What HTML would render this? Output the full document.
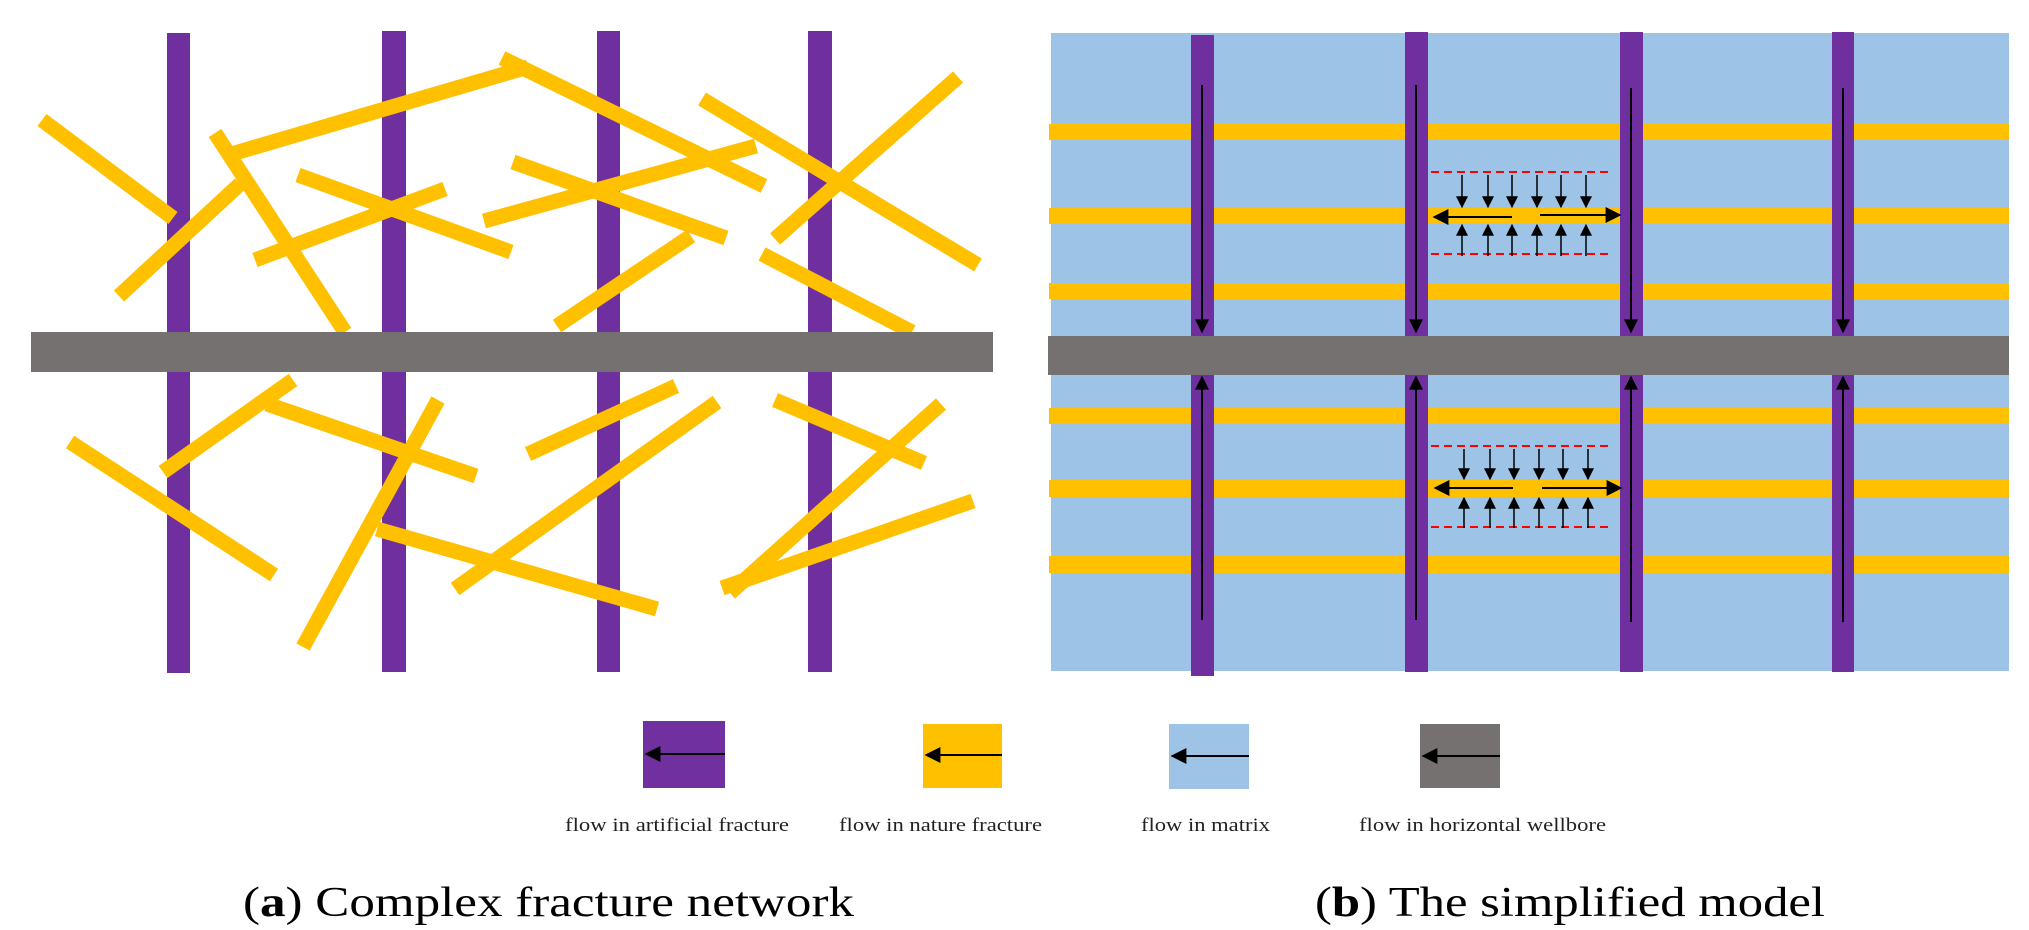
<!DOCTYPE html>
<html><head><meta charset="utf-8"><style>html,body{margin:0;padding:0;background:#fff}svg{display:block}</style></head>
<body>
<svg width="2029" height="930" viewBox="0 0 2029 930" xmlns="http://www.w3.org/2000/svg">
<defs>
<marker id="ah" viewBox="0 0 10 10" refX="9" refY="5" markerWidth="8" markerHeight="7" orient="auto" markerUnits="strokeWidth"><path d="M0,0L10,5L0,10z" fill="#000"/></marker>
<marker id="as" viewBox="0 0 10 10" refX="9" refY="5" markerWidth="8" markerHeight="8" orient="auto" markerUnits="strokeWidth"><path d="M0,0L10,5L0,10z" fill="#000"/></marker>
</defs>
<!-- LEFT PANEL -->
<g fill="#6f2f9f">
<rect x="167" y="33" width="23" height="640"/>
<rect x="382" y="31" width="24" height="641"/>
<rect x="597" y="31" width="23" height="641"/>
<rect x="808" y="31" width="24" height="641"/>
</g>
<g stroke="#ffc000" stroke-width="15" fill="none">
<line x1="42" y1="120" x2="173" y2="218"/>
<line x1="119" y1="296" x2="240" y2="184"/>
<line x1="215" y1="133" x2="345" y2="332"/>
<line x1="228" y1="155" x2="528" y2="67"/>
<line x1="502" y1="58" x2="764" y2="186"/>
<line x1="298" y1="175" x2="511" y2="252"/>
<line x1="255" y1="260" x2="445" y2="189"/>
<line x1="513" y1="162" x2="726" y2="238"/>
<line x1="484" y1="221" x2="756" y2="146"/>
<line x1="557" y1="326" x2="691" y2="236"/>
<line x1="702" y1="99" x2="978" y2="265"/>
<line x1="775" y1="239" x2="958" y2="77"/>
<line x1="762" y1="254" x2="912" y2="332"/>
<line x1="293" y1="380" x2="163" y2="472"/>
<line x1="70" y1="442" x2="274" y2="575"/>
<line x1="267" y1="404" x2="476" y2="476"/>
<line x1="438" y1="400" x2="303" y2="647"/>
<line x1="377" y1="529" x2="657" y2="609"/>
<line x1="717" y1="402" x2="455" y2="589"/>
<line x1="528" y1="454" x2="676" y2="386"/>
<line x1="775" y1="400" x2="924" y2="463"/>
<line x1="941" y1="404" x2="730" y2="593"/>
<line x1="722" y1="588" x2="973" y2="501"/>
</g>
<rect x="31" y="332" width="962" height="40" fill="#767171"/>

<!-- RIGHT PANEL -->
<rect x="1051" y="33" width="958" height="638" fill="#9dc3e6"/>
<g fill="#ffc000">
<rect x="1049" y="124" width="960" height="16"/>
<rect x="1049" y="208" width="960" height="16"/>
<rect x="1049" y="283" width="960" height="16"/>
<rect x="1049" y="408" width="960" height="16"/>
<rect x="1049" y="480" width="960" height="17"/>
<rect x="1049" y="556" width="960" height="17"/>
</g>
<g fill="#6f2f9f">
<rect x="1191" y="35" width="23" height="641"/>
<rect x="1405" y="32" width="23" height="640"/>
<rect x="1620" y="32" width="23" height="640"/>
<rect x="1832" y="32" width="22" height="640"/>
</g>
<rect x="1048" y="336" width="961" height="39" fill="#767171"/>
<g stroke="#000" stroke-width="2" marker-end="url(#ah)">
<line x1="1202" y1="85" x2="1202" y2="332"/>
<line x1="1416" y1="85" x2="1416" y2="332"/>
<line x1="1631" y1="88" x2="1631" y2="332"/>
<line x1="1843" y1="88" x2="1843" y2="332"/>
<line x1="1202" y1="620" x2="1202" y2="377"/>
<line x1="1416" y1="620" x2="1416" y2="377"/>
<line x1="1631" y1="622" x2="1631" y2="377"/>
<line x1="1843" y1="622" x2="1843" y2="377"/>
</g>
<!-- detail boxes -->
<g stroke="#ff0000" stroke-width="2" stroke-dasharray="8,5">
<line x1="1431" y1="172" x2="1613" y2="172"/>
<line x1="1431" y1="254" x2="1613" y2="254"/>
<line x1="1431" y1="446" x2="1613" y2="446"/>
<line x1="1431" y1="527" x2="1613" y2="527"/>
</g>
<g stroke="#000" stroke-width="1.5" marker-end="url(#as)">
<line x1="1462" y1="175" x2="1462" y2="207"/><line x1="1488" y1="175" x2="1488" y2="207"/><line x1="1512" y1="175" x2="1512" y2="207"/><line x1="1537" y1="175" x2="1537" y2="207"/><line x1="1561" y1="175" x2="1561" y2="207"/><line x1="1586" y1="175" x2="1586" y2="207"/>
<line x1="1462" y1="256" x2="1462" y2="225"/><line x1="1488" y1="256" x2="1488" y2="225"/><line x1="1512" y1="256" x2="1512" y2="225"/><line x1="1537" y1="256" x2="1537" y2="225"/><line x1="1561" y1="256" x2="1561" y2="225"/><line x1="1586" y1="256" x2="1586" y2="225"/>
<line x1="1464" y1="449" x2="1464" y2="479"/><line x1="1490" y1="449" x2="1490" y2="479"/><line x1="1514" y1="449" x2="1514" y2="479"/><line x1="1539" y1="449" x2="1539" y2="479"/><line x1="1563" y1="449" x2="1563" y2="479"/><line x1="1588" y1="449" x2="1588" y2="479"/>
<line x1="1464" y1="528" x2="1464" y2="498"/><line x1="1490" y1="528" x2="1490" y2="498"/><line x1="1514" y1="528" x2="1514" y2="498"/><line x1="1539" y1="528" x2="1539" y2="498"/><line x1="1563" y1="528" x2="1563" y2="498"/><line x1="1588" y1="528" x2="1588" y2="498"/>
</g>
<g stroke="#000" stroke-width="2" marker-end="url(#as)">
<line x1="1512" y1="217" x2="1434" y2="217"/>
<line x1="1540" y1="215" x2="1620" y2="215"/>
<line x1="1513" y1="488" x2="1435" y2="488"/>
<line x1="1542" y1="488" x2="1621" y2="488"/>
</g>

<!-- LEGEND -->
<rect x="643" y="721" width="82" height="67" fill="#7030a0"/>
<rect x="923" y="724" width="79" height="64" fill="#ffc000"/>
<rect x="1169" y="724" width="80" height="65" fill="#9dc3e6"/>
<rect x="1420" y="724" width="80" height="64" fill="#767171"/>
<g stroke="#000" stroke-width="2" marker-end="url(#as)">
<line x1="725" y1="754" x2="646" y2="754"/>
<line x1="1002" y1="755" x2="926" y2="755"/>
<line x1="1249" y1="756" x2="1172" y2="756"/>
<line x1="1500" y1="756" x2="1423" y2="756"/>
</g>
<g font-family="Liberation Serif, serif" font-size="19" fill="#222">
<text x="565" y="831" textLength="224" lengthAdjust="spacingAndGlyphs">flow in artificial fracture</text>
<text x="839" y="831" textLength="203" lengthAdjust="spacingAndGlyphs">flow in nature fracture</text>
<text x="1141" y="831" textLength="129" lengthAdjust="spacingAndGlyphs">flow in matrix</text>
<text x="1359" y="831" textLength="247" lengthAdjust="spacingAndGlyphs">flow in horizontal wellbore</text>
</g>
<g font-family="Liberation Serif, serif" font-size="42" fill="#000">
<text x="243" y="916" textLength="611" lengthAdjust="spacingAndGlyphs">(<tspan font-weight="bold">a</tspan>) Complex fracture network</text>
<text x="1315" y="916" textLength="510" lengthAdjust="spacingAndGlyphs">(<tspan font-weight="bold">b</tspan>) The simplified model</text>
</g>
</svg>
</body></html>
